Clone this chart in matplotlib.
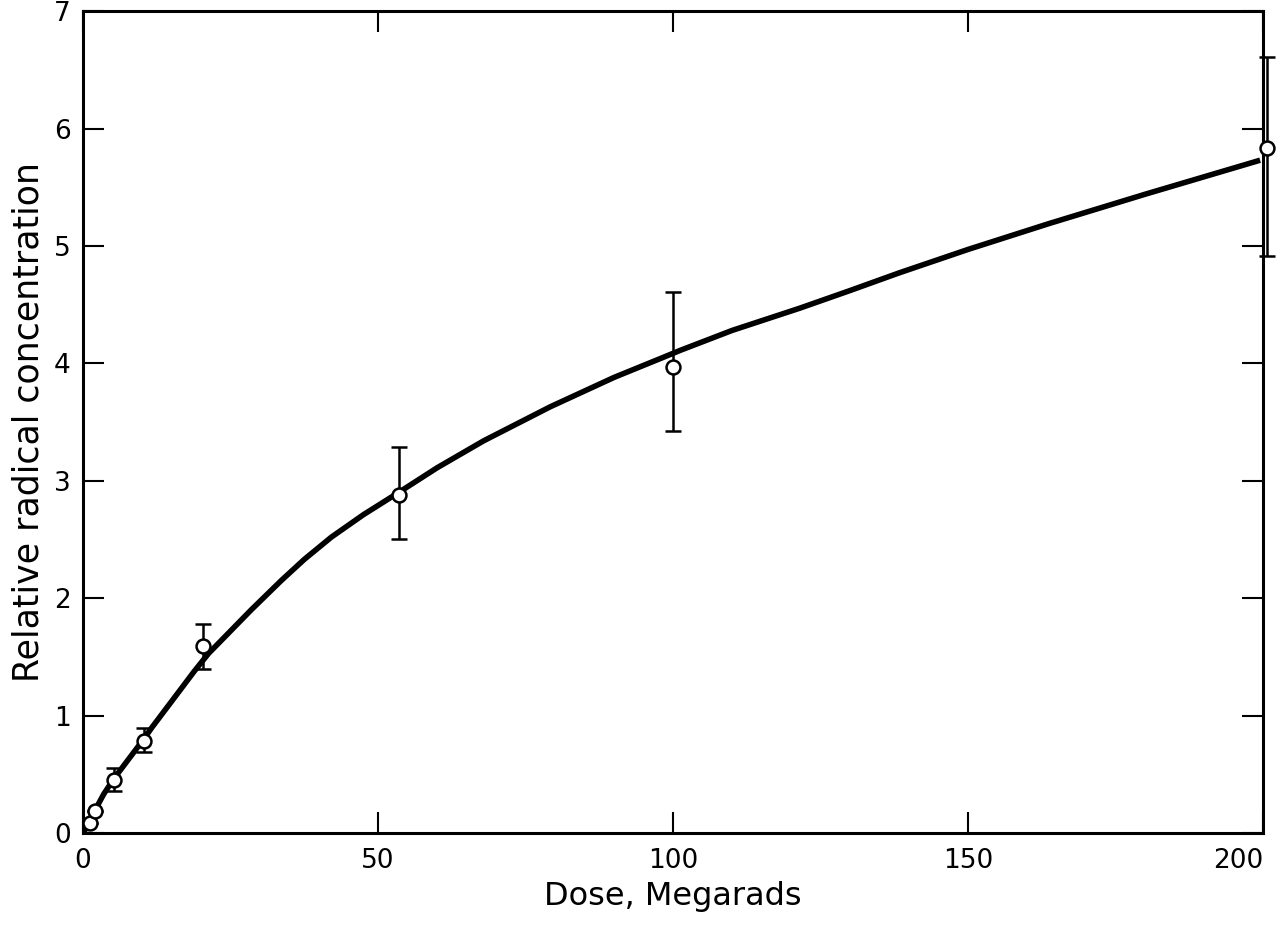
import numpy as np
import matplotlib
matplotlib.use("Agg")
import matplotlib.pyplot as plt

# measured points with error bars
dose = [1.2, 2.0, 5.2, 10.3, 20.4, 53.5, 100.0, 200.6]
conc = [0.085, 0.19, 0.45, 0.78, 1.59, 2.88, 3.97, 5.83]
err_lo = [0.085, 0.19, 0.36, 0.69, 1.40, 2.50, 3.42, 4.91]
err_hi = [0.085, 0.19, 0.55, 0.89, 1.78, 3.29, 4.61, 6.61]

# hand-drawn curve
curve_x = [0, 1.2, 2.0, 3.5, 5.2, 10.3, 11.7, 18.9, 21.3, 28.5, 33.6, 37.5,
           42.1, 47.5, 53.5, 60.0, 67.9, 79.2, 90.0, 98.3, 101.2, 110.0,
           121.5, 130.0, 138.3, 150.0, 163.7, 180.0, 199.5]
curve_y = [0, 0.09, 0.19, 0.33, 0.46, 0.80, 0.90, 1.38, 1.53, 1.90, 2.15, 2.33,
           2.52, 2.71, 2.90, 3.11, 3.34, 3.63, 3.88, 4.05, 4.11, 4.28,
           4.47, 4.62, 4.77, 4.97, 5.19, 5.44, 5.73]

plt.rcParams['font.family'] = ['DejaVu Sans']

fig = plt.figure(figsize=(12.81, 9.25), dpi=100)
ax = fig.add_axes([0.0648, 0.0995, 0.9212, 0.8885])

ax.plot(curve_x, curve_y, color='black', lw=4, solid_capstyle='butt',
        solid_joinstyle='round', zorder=2)

conc = np.array(conc)
yerr = [conc - np.array(err_lo), np.array(err_hi) - conc]
eb = ax.errorbar(dose, conc, yerr=yerr, fmt='none', ecolor='black', elinewidth=1.8,
                 capsize=5.5, capthick=1.8, zorder=3)
for art in eb.get_children():
    art.set_clip_on(False)
ax.plot(dose, conc, 'o', ms=10, mfc='white', mec='black', mew=1.8, zorder=4,
        clip_on=False)

ax.set_xlim(0, 200)
ax.set_ylim(0, 7)
ax.set_xticks([0, 50, 100, 150, 200])
ax.set_yticks(range(8))

ax.tick_params(direction='in', length=15, width=1.5, top=True, right=True,
               labelsize=19, pad=11)
ax.tick_params(axis='y', pad=9)
for s in ax.spines.values():
    s.set_linewidth(2.2)

labels = ax.get_xticklabels()
labels[-1].set_horizontalalignment('right')

ax.set_xlabel('Dose, Megarads', fontsize=23, labelpad=5)
ax.set_ylabel('Relative radical concentration', fontsize=25, labelpad=6)

fig.savefig('out.png', dpi=100)
